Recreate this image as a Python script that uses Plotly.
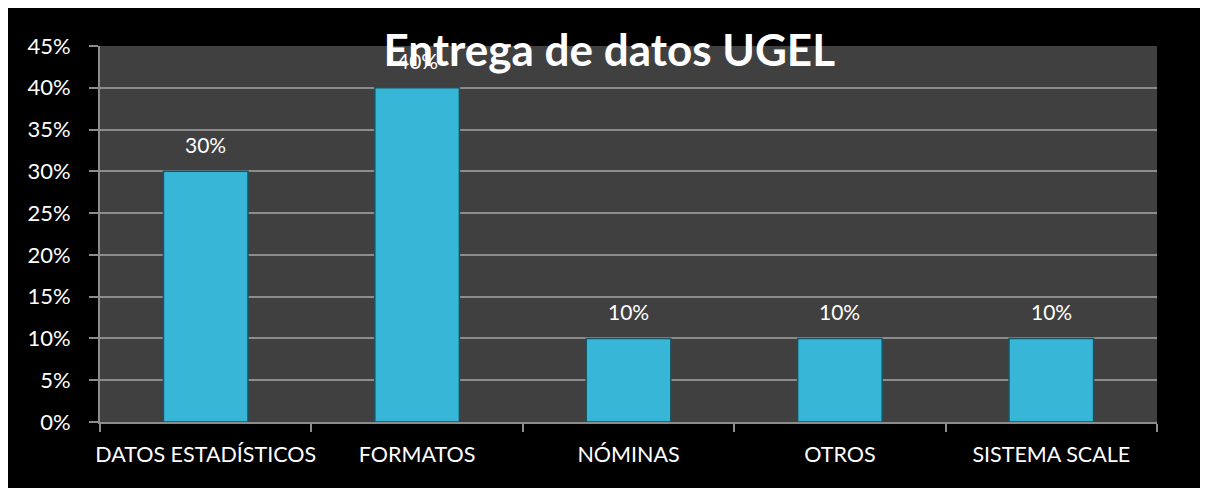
import plotly.graph_objects as go

# ---------------------------
# DATA
# ---------------------------
CATEGORIAS = ["DATOS ESTADÍSTICOS", "FORMATOS", "NÓMINAS", "OTROS", "SISTEMA SCALE"]
VALORES = [0.30, 0.40, 0.10, 0.10, 0.10]
Y_TICKS = [0, 0.05, 0.10, 0.15, 0.20, 0.25, 0.30, 0.35, 0.40, 0.45]
Y_LABELS = ["0%", "5%", "10%", "15%", "20%", "25%", "30%", "35%", "40%", "45%"]
TITULO = "Entrega de datos UGEL"

FONT = "Lato, 'Open Sans', sans-serif"
GRID = "#8c8c8c"

fig = go.Figure(
    go.Bar(
        x=CATEGORIAS,
        y=VALORES,
        marker=dict(color="#37b6d8", line=dict(color="#1d5361", width=1.5)),
        hoverinfo="x+y",
    )
)

# value labels above bars
for cat, val in zip(CATEGORIAS, VALORES):
    fig.add_annotation(
        x=cat, y=val, text=f"{val:.0%}", showarrow=False,
        yshift=27, font=dict(family=FONT, size=21, color="white"),
    )

fig.update_layout(
    width=1200,
    height=480,
    margin=dict(l=92, r=51, t=38, b=66),
    paper_bgcolor="black",
    plot_bgcolor="#404040",
    bargap=0.6,
    showlegend=False,
    font=dict(family=FONT, color="white", size=21),
    title=dict(
        text=f"<b>{TITULO}</b>",
        x=0.501, xanchor="center",
        y=0.912, yanchor="middle", yref="container",
        font=dict(family=FONT, size=44, color="white"),
    ),
    xaxis=dict(
        showgrid=False, automargin=False, tickangle=0,
        showline=True, linecolor=GRID, linewidth=2,
        ticks="outside", tickson="boundaries", ticklen=8, tickcolor=GRID, tickwidth=2,
        ticklabelstandoff=12,
        tickfont=dict(size=21.5, color="white"),
    ),
    yaxis=dict(
        range=[0, 0.45], automargin=False,
        tickvals=Y_TICKS, ticktext=Y_LABELS,
        showgrid=True, gridcolor=GRID, gridwidth=2,
        showline=True, linecolor=GRID, linewidth=2,
        ticks="outside", ticklen=9, tickcolor=GRID, tickwidth=2,
        ticklabelstandoff=14,
        tickfont=dict(size=22, color="white"),
        zeroline=False,
    ),
)

fig.write_html("out.html")
